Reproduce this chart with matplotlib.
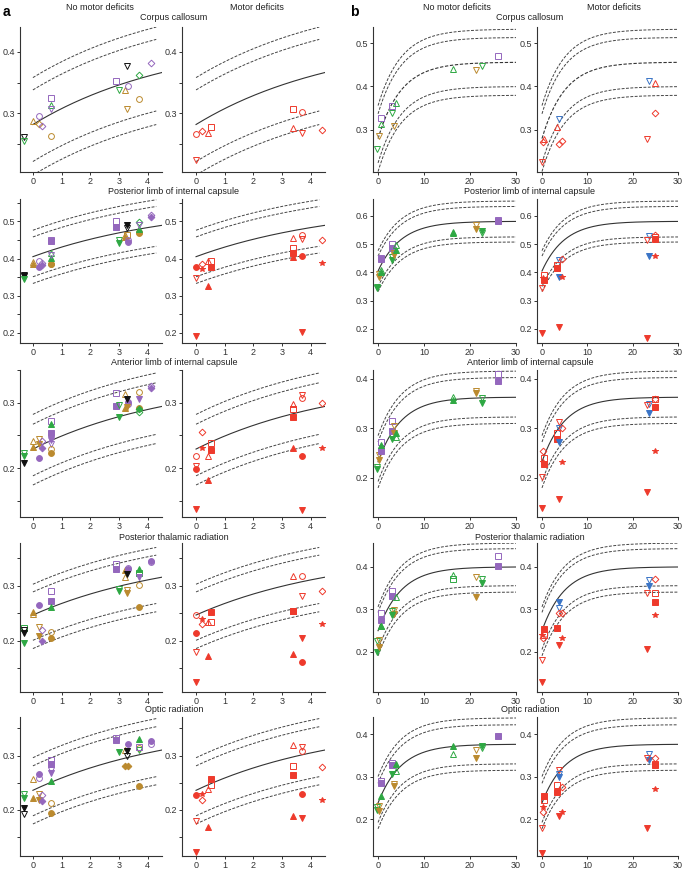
import numpy as np
import matplotlib
matplotlib.use('Agg')
import matplotlib.pyplot as plt
from matplotlib.ticker import MultipleLocator, FormatStrFormatter

plt.rcParams['font.family'] = ['Liberation Sans', 'DejaVu Sans']
plt.rcParams['font.size'] = 6.5

# ---- data: (x, y, marker, colour key, filled) ----
A_CC_NM = [(-0.3, 0.262, 'v', 'k', 0), (-0.3, 0.256, 'v', 'g', 0), (0, 0.288, '^', 't', 0), (0.2, 0.295, 'o', 'p', 0),
           (0.21, 0.282, 'D', 't', 0), (0.31, 0.280, 'D', 'p', 0), (0.62, 0.325, 's', 'p', 0), (0.62, 0.313, '^', 'g', 0),
           (0.62, 0.307, 'v', 'p', 0), (0.62, 0.264, 'o', 't', 0), (2.9, 0.353, 's', 'p', 0), (3.0, 0.338, 'v', 'g', 0),
           (3.2, 0.338, '^', 't', 0), (3.31, 0.345, 'o', 'p', 0), (3.29, 0.377, 'v', 'k', 0), (3.29, 0.307, 'v', 't', 0),
           (3.7, 0.324, 'o', 't', 0), (3.7, 0.363, 'D', 'g', 0), (4.1, 0.381, 'D', 'p', 0)]
A_CC_M = [(0, 0.267, 'o', 'r', 0), (0.2, 0.271, 'D', 'r', 0), (0.4, 0.269, '^', 'r', 0), (0.51, 0.278, 's', 'r', 0),
          (0, 0.225, 'v', 'r', 0), (3.4, 0.307, 's', 'r', 0), (3.69, 0.303, 'o', 'r', 0), (3.4, 0.277, '^', 'r', 0),
          (3.71, 0.268, 'v', 'r', 0), (4.4, 0.273, 'D', 'r', 0)]

A_PLIC_NM = [(-0.3, 0.355, 'v', 'k', 0), (-0.3, 0.353, 'v', 'k', 1), (-0.3, 0.344, 'v', 'g', 1),
             (0, 0.39, '^', 't', 0), (0, 0.385, '^', 't', 1), (0.21, 0.394, 'o', 'p', 0), (0.21, 0.376, 'o', 'p', 1),
             (0.31, 0.389, 'D', 'p', 0), (0.31, 0.382, 'D', 'p', 1), (0.62, 0.384, 'o', 't', 0), (0.62, 0.384, 'o', 't', 1),
             (0.62, 0.45, 's', 'p', 0), (0.62, 0.446, 's', 'p', 1), (0.62, 0.415, '^', 'g', 0), (0.62, 0.402, '^', 'g', 1),
             (0.62, 0.41, 'v', 'p', 0), (2.9, 0.5, 's', 'p', 0), (2.9, 0.486, 's', 'p', 1), (3.0, 0.451, 'v', 'g', 0),
             (3.0, 0.442, 'v', 'g', 1), (3.2, 0.464, '^', 't', 0), (3.2, 0.459, '^', 't', 1), (3.29, 0.462, 's', 't', 0),
             (3.29, 0.491, 'v', 'k', 1), (3.29, 0.482, 'v', 'k', 0), (3.31, 0.449, 'o', 'p', 0), (3.31, 0.444, 'o', 'p', 1),
             (3.7, 0.471, 'o', 't', 0), (3.7, 0.469, 'o', 't', 1), (3.7, 0.48, '^', 'g', 1), (3.7, 0.497, 'D', 'g', 0),
             (3.7, 0.49, 'v', 'p', 0), (4.1, 0.517, 'D', 'p', 0), (4.1, 0.512, 'D', 'p', 1)]
A_PLIC_M = [(0, 0.378, 'o', 'r', 1), (0, 0.347, 'v', 'r', 0), (0.2, 0.372, '*', 'r', 1), (0.2, 0.385, 'D', 'r', 0),
            (0.4, 0.393, '^', 'r', 0), (0.4, 0.327, '^', 'r', 1), (0.51, 0.393, 's', 'r', 0), (0.51, 0.378, 's', 'r', 1),
            (0, 0.192, 'v', 'r', 1), (3.4, 0.455, '^', 'r', 0), (3.4, 0.428, 's', 'r', 0), (3.4, 0.415, 's', 'r', 1),
            (3.4, 0.404, '^', 'r', 1), (3.69, 0.462, 'o', 'r', 0), (3.69, 0.453, 'v', 'r', 0), (3.69, 0.406, 'o', 'r', 1),
            (3.7, 0.203, 'v', 'r', 1), (4.4, 0.449, 'D', 'r', 0), (4.4, 0.387, '*', 'r', 1)]

A_ALIC_NM = [(-0.3, 0.208, 'v', 'k', 1), (-0.3, 0.223, 'v', 'g', 0), (-0.3, 0.219, 'v', 'g', 1),
             (0, 0.242, '^', 't', 0), (0, 0.232, '^', 't', 1), (0.2, 0.215, 'o', 'p', 1), (0.2, 0.244, 'v', 't', 0),
             (0.2, 0.236, 'v', 't', 1), (0.31, 0.241, 'D', 'p', 0), (0.31, 0.23, 'D', 'p', 1), (0.62, 0.272, 's', 'p', 0),
             (0.62, 0.254, 's', 'p', 1), (0.62, 0.267, '^', 'g', 1), (0.62, 0.237, 'v', 'p', 0), (0.62, 0.243, 'v', 'p', 1),
             (0.62, 0.229, 'o', 't', 0), (0.62, 0.223, 'o', 't', 1), (2.9, 0.315, 's', 'p', 0), (2.9, 0.295, 's', 'p', 1),
             (3.0, 0.296, 'v', 'g', 0), (3.0, 0.278, 'v', 'g', 1), (3.2, 0.313, '^', 't', 0), (3.2, 0.292, '^', 't', 1),
             (3.31, 0.298, 'o', 'p', 0), (3.31, 0.301, 'o', 'p', 1), (3.29, 0.305, 'v', 'k', 1), (3.29, 0.293, 'v', 't', 1),
             (3.7, 0.316, 'o', 't', 0), (3.7, 0.292, 'o', 't', 1), (3.7, 0.305, 'v', 'p', 1), (3.7, 0.285, 'D', 'g', 0),
             (3.7, 0.29, 'D', 'g', 1), (4.1, 0.326, 'D', 'p', 0), (4.1, 0.323, 'D', 'p', 1)]
A_ALIC_M = [(0, 0.219, 'o', 'r', 0), (0, 0.199, 'o', 'r', 1), (0, 0.203, 'v', 'r', 0), (0.2, 0.255, 'D', 'r', 0),
            (0.2, 0.231, '*', 'r', 1), (0.4, 0.218, '^', 'r', 0), (0.4, 0.181, '^', 'r', 1), (0.51, 0.239, 's', 'r', 0),
            (0.51, 0.227, 's', 'r', 1), (0, 0.137, 'v', 'r', 1), (3.4, 0.298, '^', 'r', 0), (3.4, 0.29, 's', 'r', 0),
            (3.4, 0.278, 's', 'r', 1), (3.4, 0.231, '^', 'r', 1), (3.69, 0.307, 'o', 'r', 0), (3.69, 0.312, 'v', 'r', 0),
            (3.69, 0.219, 'o', 'r', 1), (3.7, 0.135, 'v', 'r', 1), (4.4, 0.3, 'D', 'r', 0), (4.4, 0.231, '*', 'r', 1)]

A_PTR_NM = [(-0.3, 0.223, 's', 'g', 0), (-0.3, 0.197, 'v', 'g', 1), (-0.3, 0.214, 'v', 'k', 1), (-0.3, 0.219, 'v', 'k', 0),
            (0, 0.249, '^', 't', 0), (0, 0.253, '^', 't', 1), (0.2, 0.265, 'o', 'p', 1), (0.2, 0.225, 'v', 't', 0),
            (0.2, 0.208, 'v', 't', 1), (0.31, 0.22, 'D', 'p', 0), (0.31, 0.2, 'D', 'p', 1), (0.62, 0.29, 's', 'p', 0),
            (0.62, 0.273, 's', 'p', 1), (0.62, 0.261, '^', 'g', 1), (0.62, 0.217, 'o', 't', 0), (0.62, 0.205, 'o', 't', 1),
            (2.9, 0.34, 's', 'p', 0), (2.9, 0.33, 's', 'p', 1), (3.0, 0.295, 'v', 'g', 0), (3.0, 0.29, 'v', 'g', 1),
            (3.2, 0.316, '^', 't', 0), (3.2, 0.329, '^', 't', 1), (3.31, 0.33, 'o', 'p', 1), (3.31, 0.332, 'o', 'p', 0),
            (3.29, 0.321, 'v', 'k', 1), (3.29, 0.293, 'v', 't', 0), (3.29, 0.287, 'v', 't', 1), (3.7, 0.302, 'o', 't', 0),
            (3.7, 0.261, 'o', 't', 1), (3.7, 0.33, '^', 'g', 1), (3.7, 0.324, 's', 'g', 0), (3.7, 0.316, 'v', 'p', 1),
            (4.1, 0.344, 'o', 'p', 0), (4.1, 0.345, 'o', 'p', 1)]
A_PTR_M = [(0, 0.247, 'o', 'r', 0), (0, 0.215, 'o', 'r', 1), (0, 0.179, 'v', 'r', 0), (0, 0.126, 'v', 'r', 1),
           (0.2, 0.239, '*', 'r', 1), (0.2, 0.231, 'D', 'r', 0), (0.4, 0.235, '^', 'r', 0), (0.4, 0.172, '^', 'r', 1),
           (0.51, 0.235, 's', 'r', 0), (0.51, 0.253, 's', 'r', 1), (3.4, 0.318, '^', 'r', 0), (3.4, 0.255, 's', 'r', 1),
           (3.4, 0.255, 's', 'r', 0), (3.4, 0.176, '^', 'r', 1), (3.69, 0.318, 'o', 'r', 0), (3.69, 0.281, 'v', 'r', 0),
           (3.69, 0.205, 'v', 'r', 1), (3.69, 0.161, 'o', 'r', 1), (4.4, 0.29, 'D', 'r', 0), (4.4, 0.23, '*', 'r', 1)]

A_OR_NM = [(-0.3, 0.23, 'v', 'g', 0), (-0.3, 0.221, 'v', 'g', 1), (-0.3, 0.204, 'v', 'k', 1), (-0.3, 0.192, 'v', 'k', 0),
           (0, 0.257, '^', 't', 0), (0, 0.222, '^', 't', 1), (0.2, 0.266, 'o', 'p', 1), (0.2, 0.259, 'o', 'p', 0),
           (0.2, 0.23, 'v', 't', 0), (0.2, 0.218, 'v', 't', 1), (0.31, 0.227, 'D', 'p', 0), (0.31, 0.216, 'D', 'p', 1),
           (0.62, 0.292, 's', 'p', 0), (0.62, 0.284, 's', 'p', 1), (0.62, 0.274, 'v', 'p', 0), (0.62, 0.268, 'v', 'p', 1),
           (0.62, 0.254, '^', 'g', 1), (0.62, 0.213, 'o', 't', 0), (0.62, 0.194, 'o', 't', 1), (2.9, 0.332, 's', 'p', 0),
           (2.9, 0.328, 's', 'p', 1), (3.0, 0.306, 'v', 'g', 1), (3.2, 0.31, '^', 't', 0), (3.2, 0.28, 'D', 't', 1),
           (3.3, 0.28, 'D', 't', 1), (3.29, 0.308, 'v', 'k', 1), (3.29, 0.3, 'v', 'k', 0), (3.31, 0.322, 'o', 'p', 1),
           (3.7, 0.313, 'o', 't', 0), (3.7, 0.244, 'o', 't', 1), (3.7, 0.331, '^', 'g', 1), (3.7, 0.311, 'v', 'g', 0),
           (3.7, 0.315, 's', 'p', 0), (4.1, 0.321, 'o', 'p', 0), (4.1, 0.327, 'o', 'p', 1)]
A_OR_M = [(0, 0.228, 'o', 'r', 1), (0, 0.179, 'v', 'r', 0), (0, 0.122, 'v', 'r', 1), (0.2, 0.23, '*', 'r', 1),
          (0.2, 0.219, 'D', 'r', 0), (0.4, 0.238, '^', 'r', 0), (0.4, 0.169, '^', 'r', 1), (0.51, 0.256, 's', 'r', 1),
          (0.51, 0.245, 's', 'r', 0), (3.4, 0.319, '^', 'r', 0), (3.4, 0.281, 's', 'r', 0), (3.4, 0.265, 's', 'r', 1),
          (3.4, 0.188, '^', 'r', 1), (3.69, 0.308, 'o', 'r', 0), (3.69, 0.315, 'v', 'r', 0), (3.69, 0.23, 'o', 'r', 1),
          (3.69, 0.185, 'v', 'r', 1), (4.4, 0.278, 'D', 'r', 0), (4.4, 0.218, '*', 'r', 1)]

B_CC_NM = [(-0.2, 0.255, 'v', 'g', 0), (0.3, 0.285, 'v', 't', 0), (0.7, 0.314, '^', 'g', 0), (0.7, 0.327, 's', 'p', 0),
           (3.0, 0.355, 's', 'p', 0), (3.0, 0.34, 'v', 'g', 0), (3.8, 0.363, '^', 'g', 0), (3.4, 0.309, 'v', 't', 0),
           (16.4, 0.44, '^', 'g', 0), (21.3, 0.438, 'v', 't', 0), (22.6, 0.448, 'v', 'g', 0), (26, 0.471, 's', 'p', 0)]
B_CC_M = [(0, 0.227, 'v', 'r', 0), (0.2, 0.272, 'D', 'r', 0), (0.5, 0.278, '^', 'r', 0), (3.4, 0.307, '^', 'r', 0),
          (3.7, 0.326, 'v', 'b', 0), (3.7, 0.267, 'D', 'r', 0), (4.5, 0.275, 'D', 'r', 0), (23.6, 0.413, 'v', 'b', 0),
          (24.9, 0.409, '^', 'r', 0), (25, 0.338, 'D', 'r', 0), (23.2, 0.278, 'v', 'r', 0)]

B_PLIC_NM = [(-0.2, 0.349, 'v', 'g', 0), (-0.2, 0.344, 'v', 'g', 1), (0.1, 0.394, 'v', 't', 0), (0.1, 0.385, 'v', 't', 1),
             (0.65, 0.41, '^', 'g', 0), (0.65, 0.402, '^', 'g', 1), (0.65, 0.449, 's', 'p', 1), (0.65, 0.452, 's', 'p', 0),
             (3.0, 0.5, 's', 'p', 0), (3.0, 0.487, 's', 'p', 1), (3.0, 0.453, 'v', 'g', 0), (3.0, 0.443, 'v', 'g', 1),
             (3.4, 0.467, 'v', 't', 0), (3.4, 0.46, 'v', 't', 1), (3.8, 0.496, '^', 'g', 0), (3.8, 0.479, '^', 'g', 1),
             (16.4, 0.543, '^', 'g', 0), (16.4, 0.541, '^', 'g', 1), (21.3, 0.569, 'v', 't', 0), (21.3, 0.555, 'v', 't', 1),
             (22.7, 0.538, 'v', 'g', 0), (22.7, 0.547, 'v', 'g', 1), (26, 0.582, 's', 'p', 1), (26, 0.584, 's', 'p', 0)]
B_PLIC_M = [(0, 0.346, 'v', 'r', 0), (0.5, 0.391, 's', 'r', 0), (0.5, 0.373, 's', 'r', 1), (0.2, 0.38, '*', 'r', 1),
            (0, 0.187, 'v', 'r', 1), (3.7, 0.444, 'v', 'b', 0), (3.7, 0.385, 'v', 'b', 1), (3.4, 0.428, 's', 'r', 0),
            (3.4, 0.416, 's', 'r', 1), (4.4, 0.449, 'D', 'r', 0), (4.4, 0.385, '*', 'r', 1), (3.7, 0.206, 'v', 'r', 1),
            (23.6, 0.529, 'v', 'b', 0), (23.6, 0.458, 'v', 'b', 1), (23.2, 0.514, 'v', 'r', 0), (25, 0.532, 'D', 'r', 0),
            (25, 0.526, 's', 'r', 0), (25, 0.52, 's', 'r', 1), (25, 0.458, '*', 'r', 1), (23.2, 0.167, 'v', 'r', 1)]

B_ALIC_NM = [(-0.2, 0.222, 'v', 'g', 0), (-0.2, 0.218, 'v', 'g', 1), (0.1, 0.246, 'v', 't', 0), (0.1, 0.236, 'v', 't', 1),
             (0.7, 0.272, 's', 'p', 0), (0.7, 0.254, 's', 'p', 1), (0.7, 0.266, '^', 'g', 1), (3.0, 0.315, 's', 'p', 0),
             (3.0, 0.295, 's', 'p', 1), (3.0, 0.278, 'v', 'g', 1), (3.4, 0.305, 'v', 't', 0), (3.4, 0.29, 'v', 't', 1),
             (3.8, 0.29, '^', 'g', 1), (3.8, 0.283, '^', 'g', 0), (16.4, 0.364, '^', 'g', 0), (16.4, 0.357, '^', 'g', 1),
             (21.3, 0.376, 'v', 't', 0), (21.3, 0.372, 'v', 't', 1), (22.7, 0.361, 'v', 'g', 0), (22.7, 0.351, 'v', 'g', 1),
             (26, 0.409, 's', 'p', 0), (26, 0.396, 's', 'p', 1)]
B_ALIC_M = [(0, 0.202, 'v', 'r', 0), (0, 0.138, 'v', 'r', 1), (0.2, 0.254, 'D', 'r', 0), (0.2, 0.231, '*', 'r', 1),
            (0.5, 0.239, 's', 'r', 0), (0.5, 0.227, 's', 'r', 1), (3.7, 0.312, 'v', 'r', 0), (3.7, 0.3, 'v', 'b', 0),
            (3.4, 0.29, 's', 'r', 0), (3.4, 0.278, 's', 'r', 1), (3.7, 0.273, 'v', 'b', 1), (4.4, 0.3, 'D', 'r', 0),
            (4.4, 0.231, '*', 'r', 1), (3.7, 0.157, 'v', 'r', 1), (23.6, 0.349, 'v', 'b', 0), (23.6, 0.33, 'v', 'b', 1),
            (23.2, 0.347, 'v', 'r', 0), (25, 0.359, 's', 'r', 0), (25, 0.36, 'D', 'r', 0), (25, 0.344, 's', 'r', 1),
            (25, 0.254, '*', 'r', 1), (23.2, 0.17, 'v', 'r', 1)]

B_PTR_NM = [(-0.2, 0.225, 'v', 'g', 0), (-0.2, 0.199, 'v', 'g', 1), (0.1, 0.228, 'v', 't', 0), (0.1, 0.211, 'v', 't', 1),
            (0.7, 0.291, 's', 'p', 0), (0.7, 0.276, 's', 'p', 1), (0.7, 0.262, '^', 'g', 0), (0.7, 0.26, '^', 'g', 1),
            (3.0, 0.343, 's', 'p', 0), (3.0, 0.331, 's', 'p', 1), (3.4, 0.298, 'v', 't', 0), (3.4, 0.29, 'v', 't', 1),
            (3.0, 0.296, 'v', 'g', 0), (3.0, 0.288, 'v', 'g', 1), (3.8, 0.33, '^', 'g', 0), (16.4, 0.38, '^', 'g', 0),
            (16.4, 0.371, 's', 'g', 0), (21.3, 0.377, 'v', 't', 0), (21.3, 0.33, 'v', 't', 1), (22.7, 0.372, 'v', 'g', 0),
            (22.7, 0.361, 'v', 'g', 1), (26, 0.426, 's', 'p', 0), (26, 0.402, 's', 'p', 1)]
B_PTR_M = [(0, 0.182, 'v', 'r', 0), (0, 0.129, 'v', 'r', 1), (0.2, 0.233, 'D', 'r', 0), (0.1, 0.239, '*', 'r', 1),
           (0.5, 0.239, 's', 'r', 0), (0.5, 0.255, 's', 'r', 1), (3.7, 0.317, 'v', 'b', 1), (3.7, 0.304, 'v', 'b', 0),
           (3.4, 0.257, 's', 'r', 1), (3.7, 0.292, 'D', 'r', 0), (4.5, 0.292, 'D', 'r', 0), (4.5, 0.233, '*', 'r', 1),
           (3.7, 0.217, 'v', 'r', 1), (23.6, 0.369, 'v', 'b', 0), (23.6, 0.355, 'v', 'b', 1), (25, 0.372, 'D', 'r', 0),
           (23.2, 0.338, 'v', 'r', 0), (25, 0.338, 's', 'r', 0), (25, 0.317, 's', 'r', 1), (25, 0.287, '*', 'r', 1),
           (23.2, 0.206, 'v', 'r', 1)]

B_OR_NM = [(-0.2, 0.228, 'v', 'g', 0), (-0.2, 0.222, 'v', 'g', 1), (0.1, 0.23, 'v', 't', 0), (0.1, 0.219, 'v', 't', 1),
           (0.7, 0.253, '^', 'g', 1), (0.7, 0.29, 's', 'p', 0), (0.7, 0.284, 's', 'p', 1), (3.0, 0.332, 's', 'p', 0),
           (3.0, 0.328, 's', 'p', 1), (3.0, 0.305, 'v', 'g', 1), (3.8, 0.33, '^', 'g', 1), (3.9, 0.312, '^', 'g', 0),
           (3.4, 0.282, 'v', 't', 0), (3.4, 0.278, 'v', 't', 1), (16.4, 0.371, '^', 'g', 1), (16.4, 0.353, '^', 'g', 0),
           (21.3, 0.363, 'v', 't', 0), (21.3, 0.344, 'v', 't', 1), (22.7, 0.367, 'v', 'g', 0), (22.7, 0.371, 'v', 'g', 1),
           (26, 0.396, 's', 'p', 1)]
B_OR_M = [(0, 0.178, 'v', 'r', 0), (0, 0.121, 'v', 'r', 1), (0.2, 0.217, 'D', 'r', 0), (0.2, 0.228, '*', 'r', 1),
          (0.5, 0.244, 's', 'r', 0), (0.5, 0.253, 's', 'r', 1), (3.7, 0.315, 'v', 'r', 0), (3.7, 0.305, 'v', 'b', 0),
          (3.7, 0.299, 'v', 'b', 1), (3.4, 0.281, 's', 'r', 0), (3.4, 0.263, 's', 'r', 1), (4.5, 0.276, 'D', 'r', 0),
          (4.5, 0.217, '*', 'r', 1), (3.7, 0.207, 'v', 'r', 1), (23.6, 0.353, 'v', 'b', 0), (23.6, 0.338, 'v', 'b', 1),
          (23.2, 0.344, 'v', 'r', 0), (25, 0.344, 'D', 'r', 0), (25, 0.33, 's', 'r', 0), (25, 0.328, 's', 'r', 1),
          (25, 0.271, '*', 'r', 1), (23.2, 0.178, 'v', 'r', 1)]

tracts = ['Corpus callosum', 'Posterior limb of internal capsule', 'Anterior limb of internal capsule',
          'Posterior thalamic radiation', 'Optic radiation']
a_points = [(A_CC_NM, A_CC_M), (A_PLIC_NM, A_PLIC_M), (A_ALIC_NM, A_ALIC_M), (A_PTR_NM, A_PTR_M), (A_OR_NM, A_OR_M)]
b_points = [(B_CC_NM, B_CC_M), (B_PLIC_NM, B_PLIC_M), (B_ALIC_NM, B_ALIC_M), (B_PTR_NM, B_PTR_M), (B_OR_NM, B_OR_M)]

# normative curves: start value, plateau, offsets of the 4 dashed bands
a_y0 = [0.282, 0.405, 0.229, 0.247, 0.236]
a_top = [0.424, 0.547, 0.339, 0.363, 0.361]
a_offs = [(0.076, 0.056, -0.060, -0.082), (0.071, 0.053, -0.054, -0.072), (0.053, 0.038, -0.041, -0.055),
          (0.056, 0.042, -0.046, -0.061), (0.060, 0.045, -0.047, -0.062)]
b_y0 = [0.280, 0.405, 0.232, 0.250, 0.238]
b_top = [0.456, 0.581, 0.363, 0.400, 0.376]
b_offs = [(0.076, 0.057, -0.056, -0.076), (0.072, 0.053, -0.055, -0.073), (0.053, 0.040, -0.040, -0.053),
          (0.056, 0.043, -0.044, -0.059), (0.062, 0.046, -0.046, -0.061)]
TAU = 5.0

a_ylim = [(0.205, 0.44), (0.173, 0.56), (0.125, 0.35), (0.107, 0.378), (0.115, 0.371)]
b_ylim = [(0.203, 0.537), (0.15, 0.66), (0.12, 0.418), (0.106, 0.456), (0.113, 0.44)]

COLORS = {'p': '#9467bd', 'g': '#2ea843', 't': '#bb8a2e', 'k': '#111111', 'r': '#ee3a2c', 'b': '#3a74c6'}
MSIZE = {'o': 4.2, 's': 4.2, '^': 4.4, 'v': 4.4, 'D': 3.4, '*': 4.2}

W, H = 685, 872
fig = plt.figure(figsize=(W / 100, H / 100), dpi=100)

row_top = [27, 199, 370, 543, 717]
row_bot = [172, 343, 517, 692, 856]
a_cols = [(20, 162, (-0.45, 4.5)), (182, 325, (-0.49, 4.5))]
b_cols = [(373, 516, (-1.1, 30)), (537, 678, (-1.1, 30))]


def curve(x, y0, top):
    return top - (top - y0) * np.exp(-x / TAU)


def make_ax(l, t, r, b):
    ax = fig.add_axes([l / W, 1 - b / H, (r - l) / W, (b - t) / H])
    for s in ['top', 'right']:
        ax.spines[s].set_visible(False)
    for s in ['left', 'bottom']:
        ax.spines[s].set_color('#333333')
        ax.spines[s].set_linewidth(0.8)
    ax.tick_params(which='both', direction='out', length=2, width=0.7, colors='#333333',
                   labelsize=6.5, pad=1.5, labelcolor='#333333')
    ax.yaxis.set_major_formatter(FormatStrFormatter('%.1f'))
    return ax


def draw_points(ax, pts):
    for x, y, m, c, f in pts:
        col = COLORS[c]
        ax.plot(x, y, ls='none', marker=m, ms=MSIZE[m], mec=col, mew=0.7,
                mfc=col if f else 'none', zorder=3)


for side, cols, pts_all, y0s, tops, offs, ylims in [
        ('a', a_cols, a_points, a_y0, a_top, a_offs, a_ylim),
        ('b', b_cols, b_points, b_y0, b_top, b_offs, b_ylim)]:
    for r in range(5):
        for c in range(2):
            l, rr, xl = cols[c]
            ax = make_ax(l, row_top[r], rr, row_bot[r])
            if side == 'a':
                xc = np.linspace(0, 4.5, 200)
                xd = np.linspace(0, 4.3, 200)
                ax.xaxis.set_major_locator(MultipleLocator(1))
                ax.yaxis.set_major_locator(MultipleLocator(0.1))
                ax.yaxis.set_minor_locator(MultipleLocator(0.05))
            else:
                xc = np.linspace(0, 30, 300)
                xd = xc
                ax.xaxis.set_major_locator(MultipleLocator(10))
                ax.yaxis.set_major_locator(MultipleLocator(0.1))
            mid = curve(xc, y0s[r], tops[r])
            mid_ls = '-' if not (side == 'b' and r == 0) else (0, (3, 1.5))
            ax.plot(xc, mid, color='#333333', lw=0.8, ls=mid_ls, zorder=2)
            base = curve(xd, y0s[r], tops[r])
            for o in offs[r]:
                ax.plot(xd, base + o, color='#444444', lw=0.7, ls=(0, (3, 1.5)), zorder=2)
            draw_points(ax, pts_all[r][c])
            ax.set_xlim(*xl)
            ax.set_ylim(*ylims[r])

# column headers, tract titles and panel letters
fig.text(3 / W, 1 - 12 / H, 'a', fontsize=10, fontweight='bold', va='center', ha='left')
fig.text(350 / W, 1 - 12 / H, 'b', fontsize=10, fontweight='bold', va='center', ha='left')
for xc, txt in [(100, 'No motor deficits'), (257, 'Motor deficits'),
                (457, 'No motor deficits'), (614, 'Motor deficits')]:
    fig.text(xc / W, 1 - 7 / H, txt, ha='center', va='center', fontsize=6.5, color='#222222')
title_y = [17, 192, 362, 537, 710]
for r in range(5):
    fig.text(174 / W, 1 - title_y[r] / H, tracts[r], ha='center', va='center', fontsize=6.5, color='#222222')
    fig.text(530 / W, 1 - title_y[r] / H, tracts[r], ha='center', va='center', fontsize=6.5, color='#222222')

fig.savefig('out.png', dpi=100)
